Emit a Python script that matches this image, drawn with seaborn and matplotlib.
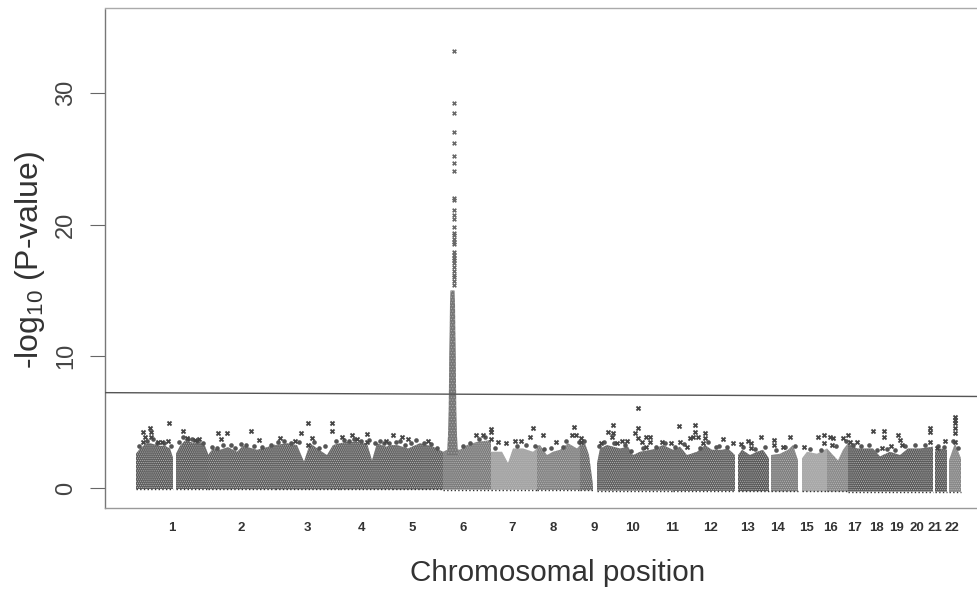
import pandas as pd
import matplotlib
matplotlib.use('Agg')
import matplotlib.pyplot as plt
import seaborn as sns

# positions are read straight off the picture, so the axis unit is close to a pixel
block_x = [
    [136, 140, 145, 150, 155, 160, 165, 170, 173],
    [176, 180, 185, 190, 195, 200, 205, 208],
    [208, 213, 220, 228, 237, 243, 257, 267, 275],
    [275, 287, 297, 304, 310, 322, 327, 333, 340],
    [340, 347, 357, 367, 372, 377, 386, 392],
    [392, 397, 408, 420, 433, 443],
    [443, 450, 460, 467, 477, 491],
    [491, 502, 508, 513, 523, 533, 537],
    [537, 540, 547, 553, 560, 568, 577, 580],
    [580, 585, 589, 592, 593],
    [597, 600, 607, 620, 628, 633, 640, 653, 663, 673],
    [673, 680, 687, 697, 705, 712, 722, 728, 735],
    [738, 742, 750, 757, 763, 769],
    [771, 780, 788, 793, 798],
    [802, 807, 817, 827],
    [827, 833, 838, 843, 848],
    [848, 857, 865, 873, 880, 890, 900, 908, 920, 933],
    [935, 940, 947],
    [949, 955, 961],
]
block_top = [
    [2.6, 3.0, 3.3, 3.4, 3.3, 3.2, 3.2, 3.0, 2.3],
    [2.6, 3.2, 3.6, 3.5, 3.4, 3.5, 3.2, 2.6],
    [2.5, 3.0, 2.9, 3.1, 2.75, 3.2, 2.9, 3.1, 3.3],
    [3.26, 3.4, 3.26, 2.0, 3.4, 2.75, 2.5, 3.26, 3.4],
    [3.4, 3.5, 3.5, 3.4, 2.1, 3.4, 3.14, 3.26],
    [3.26, 3.26, 3.0, 3.4, 3.14, 2.75],
    [2.75, 3.0, 2.9, 3.26, 3.5, 3.64],
    [2.75, 2.75, 1.9, 3.0, 3.0, 2.75, 3.0],
    [3.2, 3.26, 2.5, 2.75, 2.9, 3.4, 3.0, 3.26],
    [3.26, 3.4, 2.5, 0.8, 0.2],
    [1.87, 3.0, 3.26, 3.0, 3.14, 2.5, 2.75, 2.93, 3.26, 2.9],
    [2.9, 3.14, 2.5, 2.75, 3.26, 2.9, 2.9, 3.0, 2.5],
    [2.5, 2.9, 2.5, 2.75, 2.9, 2.25],
    [2.5, 2.6, 2.9, 3.26, 2.1],
    [2.25, 2.75, 2.6, 3.0],
    [3.0, 2.5, 2.1, 2.9, 3.4],
    [3.4, 3.0, 3.0, 3.0, 2.4, 2.75, 2.5, 3.0, 3.0, 3.14],
    [2.75, 3.0, 2.9],
    [2.1, 3.4, 2.25],
]
block_base = [-0.08, -0.08, -0.09, -0.1, -0.1, -0.11, -0.12, -0.13, -0.15, -0.17,
              -0.2, -0.22, -0.24, -0.25, -0.25, -0.26, -0.27, -0.28, -0.3]
block_grey = ['#5e5e5e', '#5e5e5e', '#626262', '#626262', '#626262', '#626262',
              '#7c7c7c', '#a4a4a4', '#838383', '#6c6c6c', '#616161', '#616161',
              '#5a5a5a', '#7e7e7e', '#a8a8a8', '#8a8a8a', '#5c5c5c', '#5c5c5c', '#888888']

# chr 6 peak, solid part
spike_val = [2.5, 4, 6, 8, 10, 12, 14, 15]
spike_half = [5.5, 4.5, 3.8, 3.5, 3.3, 2.8, 2.5, 2]

peak_val = [33.2, 29.2, 28.5, 27.0, 26.2, 25.2, 24.7, 24.1, 22.0, 21.9, 21.1, 20.7, 20.4,
            19.85, 19.4, 19.2, 18.9, 18.7, 18.5, 17.9, 17.7, 17.5, 17.3, 17.1, 16.8,
            16.5, 16.2, 16.0, 15.7, 15.4]

hit_x = [143.3, 145, 150, 150.7, 150.7, 143.3, 169, 168.3, 158.3, 161.7, 183.3, 187.3, 195, 199,
         218.3, 220.7, 226.7, 251, 259, 280, 301, 307.7, 312.3, 332.3, 332.3, 308.3, 295, 341.7,
         351.7, 356.7, 366.7, 366.7, 386, 393.3, 401.7, 408.3, 428.3, 475.7, 490.7, 490.7, 490.7,
         482.7, 498.3, 506, 515, 520.7, 532.7, 530, 542.7, 555.7, 574.3, 571.7, 576, 580.7, 580.7,
         601, 608.3, 612.7, 612.7, 611.7, 617.3, 622.3, 627.3, 638.3, 638.3, 635, 638.3, 641.7,
         646, 650, 650, 646, 661.7, 670.7, 679.3, 680, 695, 695, 693.3, 690, 698.3, 705, 705,
         687.3, 703.3, 723.3, 732.7, 741, 747.7, 750.7, 750.7, 760.7, 774.3, 774.3, 783.3, 790,
         804.3, 817.7, 824.3, 824.3, 830, 832.7, 831.7, 842.7, 848.3, 850, 856.7, 873.3, 884, 884,
         882.3, 890.7, 898.3, 900, 901.7, 930, 930, 930, 945, 937.3, 955, 955, 955, 955, 955, 955]
hit_val = [4.28, 3.9, 4.53, 4.28, 3.9, 3.5, 4.91, 3.6, 3.5, 3.5, 4.33, 3.77, 3.64, 3.7,
           4.2, 3.7, 4.15, 4.35, 3.64, 3.77, 4.2, 4.96, 3.77, 4.9, 4.35, 3.26, 3.6, 3.85,
           4.02, 3.7, 4.1, 3.5, 3.6, 4.02, 3.85, 3.7, 3.6, 4.02, 4.45, 4.28, 3.7,
           4.02, 3.5, 3.4, 3.57, 3.57, 4.58, 3.85, 4.02, 3.5, 4.66, 4.02, 4.02, 3.77, 3.5,
           3.4, 4.28, 4.78, 4.15, 3.9, 3.4, 3.6, 3.6, 6.1, 4.53, 4.2, 3.77, 3.5,
           3.9, 3.9, 3.5, 3.14, 3.5, 3.44, 4.7, 3.5, 4.78, 4.28, 3.9, 3.77, 3.85, 4.15, 3.77,
           3.14, 3.4, 3.7, 3.4, 3.34, 3.6, 3.4, 3.0, 3.9, 3.64, 3.26, 3.14, 3.85,
           3.14, 3.85, 4.02, 3.4, 3.9, 3.77, 3.26, 3.77, 4.02, 3.5, 3.5, 4.33, 4.33, 3.85,
           3.0, 3.2, 4.02, 3.64, 3.26, 4.53, 4.28, 3.5, 3.57, 3.06, 5.4, 5.16, 4.9, 4.53, 4.15, 3.47]

# the dense, uneven crust of points along the top of the mass
crust_x = [139, 147, 153, 157, 164, 171, 179, 183, 188, 192, 197, 203, 212, 217, 223, 231, 235,
           241, 246, 254, 262, 271, 278, 284, 291, 299, 314, 319, 325, 336, 344, 349, 354, 361,
           369, 375, 380, 384, 389, 396, 400, 405, 411, 416, 424, 431, 437, 463, 470, 479, 485,
           495, 517, 526, 535, 544, 551, 563, 566, 579, 584, 599, 604, 614, 625, 631, 643, 656,
           665, 675, 684, 700, 708, 716, 719, 727, 743, 755, 765, 776, 785, 795, 810, 821, 836,
           846, 853, 861, 869, 877, 887, 895, 905, 915, 925, 938, 944, 953, 958]
crust_val = [3.2, 3.55, 3.7, 3.4, 3.45, 3.2, 3.5, 3.9, 3.7, 3.75, 3.55, 3.4, 3.15, 3.05, 3.3, 3.25, 3.0,
             3.35, 3.3, 3.2, 3.15, 3.3, 3.5, 3.55, 3.45, 3.5, 3.5, 3.05, 3.2, 3.55, 3.65, 3.55, 3.75, 3.6,
             3.65, 3.45, 3.6, 3.4, 3.45, 3.5, 3.6, 3.3, 3.4, 3.65, 3.45, 3.35, 3.05, 3.2, 3.45, 3.75, 3.85,
             3.0, 3.2, 3.25, 3.2, 2.95, 3.0, 3.1, 3.6, 3.5, 3.6, 3.2, 3.5, 3.4, 3.3, 2.8, 3.05, 3.15,
             3.4, 3.1, 3.35, 3.0, 3.5, 3.15, 3.2, 3.15, 3.1, 2.95, 3.1, 2.85, 3.1, 3.2, 2.95, 2.85, 3.2,
             3.6, 3.3, 3.2, 3.25, 2.85, 2.95, 2.85, 3.2, 3.25, 3.3, 3.2, 3.15, 3.55, 3.0]

chrom_labels = [str(i) for i in range(1, 23)]
chrom_mid = [172, 241, 307, 361, 412, 463, 512, 553, 594, 633, 672, 711, 748, 778, 806, 831, 855,
             876, 897, 917, 935, 952]
thresh_x = [105, 977]
thresh_val = [7.24, 6.95]

sns.set_style('white')
plt.rcParams['font.family'] = ['Liberation Sans', 'DejaVu Sans']
plt.rcParams['mathtext.fontset'] = 'custom'
plt.rcParams['mathtext.rm'] = 'Liberation Sans'
plt.rcParams['mathtext.default'] = 'regular'
plt.rcParams['hatch.linewidth'] = 0.5

fig = plt.figure(figsize=(9.77, 5.93), dpi=100)
ax = fig.add_axes([105 / 977, 1 - 508 / 593, 872 / 977, 500 / 593])

for x, top, base, grey in zip(block_x, block_top, block_base, block_grey):
    ax.fill_between(x, base, top, facecolor=grey, edgecolor='#b8b8b8', hatch='........', linewidth=0, zorder=2)
    sns.lineplot(x=x, y=[base] * len(x), color='#333333', lw=1.0, ls=':', ax=ax, zorder=3, estimator=None, sort=False)

ax.fill_betweenx(spike_val, [452.5 - h for h in spike_half], [452.5 + h for h in spike_half],
                 facecolor='#777777', edgecolor='#aaaaaa', hatch='......', linewidth=0, zorder=3)

sns.scatterplot(x=[453.5] * len(peak_val), y=peak_val, color='#666666', marker='X', s=12, linewidth=0, ax=ax, zorder=4)
sns.scatterplot(x=crust_x, y=crust_val, color='#555555', marker='o', s=11, linewidth=0, ax=ax, zorder=2.5)
hits = pd.DataFrame({'pos': hit_x, 'logp': hit_val})
sns.scatterplot(data=hits, x='pos', y='logp', color='#454545', marker='X', s=15, linewidth=0, ax=ax, zorder=4)
sns.lineplot(x=thresh_x, y=thresh_val, color='#555555', lw=1.0, ax=ax, zorder=5, estimator=None)

ax.set_xlim(105, 977)
ax.set_ylim(-1.52, 36.45)
ax.set_xticks(chrom_mid)
ax.set_xticklabels(chrom_labels, fontsize=9.5, fontweight='bold', color='#333333')
ax.set_yticks([0, 10, 20, 30])
ax.set_yticklabels(['0', '10', '20', '30'], rotation=90, va='center', fontsize=17, color='#444444')
ax.tick_params(axis='x', length=0, pad=10)
ax.tick_params(axis='y', left=True, length=11, width=0.8, color='#666666', pad=9)

for side, shade in [('left', '#777777'), ('top', '#aaaaaa'), ('bottom', '#999999')]:
    ax.spines[side].set_color(shade)
    ax.spines[side].set_linewidth(1.0)
    ax.spines[side].set_linestyle((0, (1, 1)))
ax.spines['right'].set_visible(False)

ax.set_xlabel('')
ax.set_ylabel('')
fig.text(558 / 977, 1 - 573 / 593, 'Chromosomal position', ha='center', va='center', fontsize=21.3, color='#333333')
fig.text(30 / 977, 1 - 260 / 593, '-log$_{10}$ (P-value)', rotation=90, ha='center', va='center', fontsize=23, color='#333333')

plt.savefig('out.png', dpi=100)
